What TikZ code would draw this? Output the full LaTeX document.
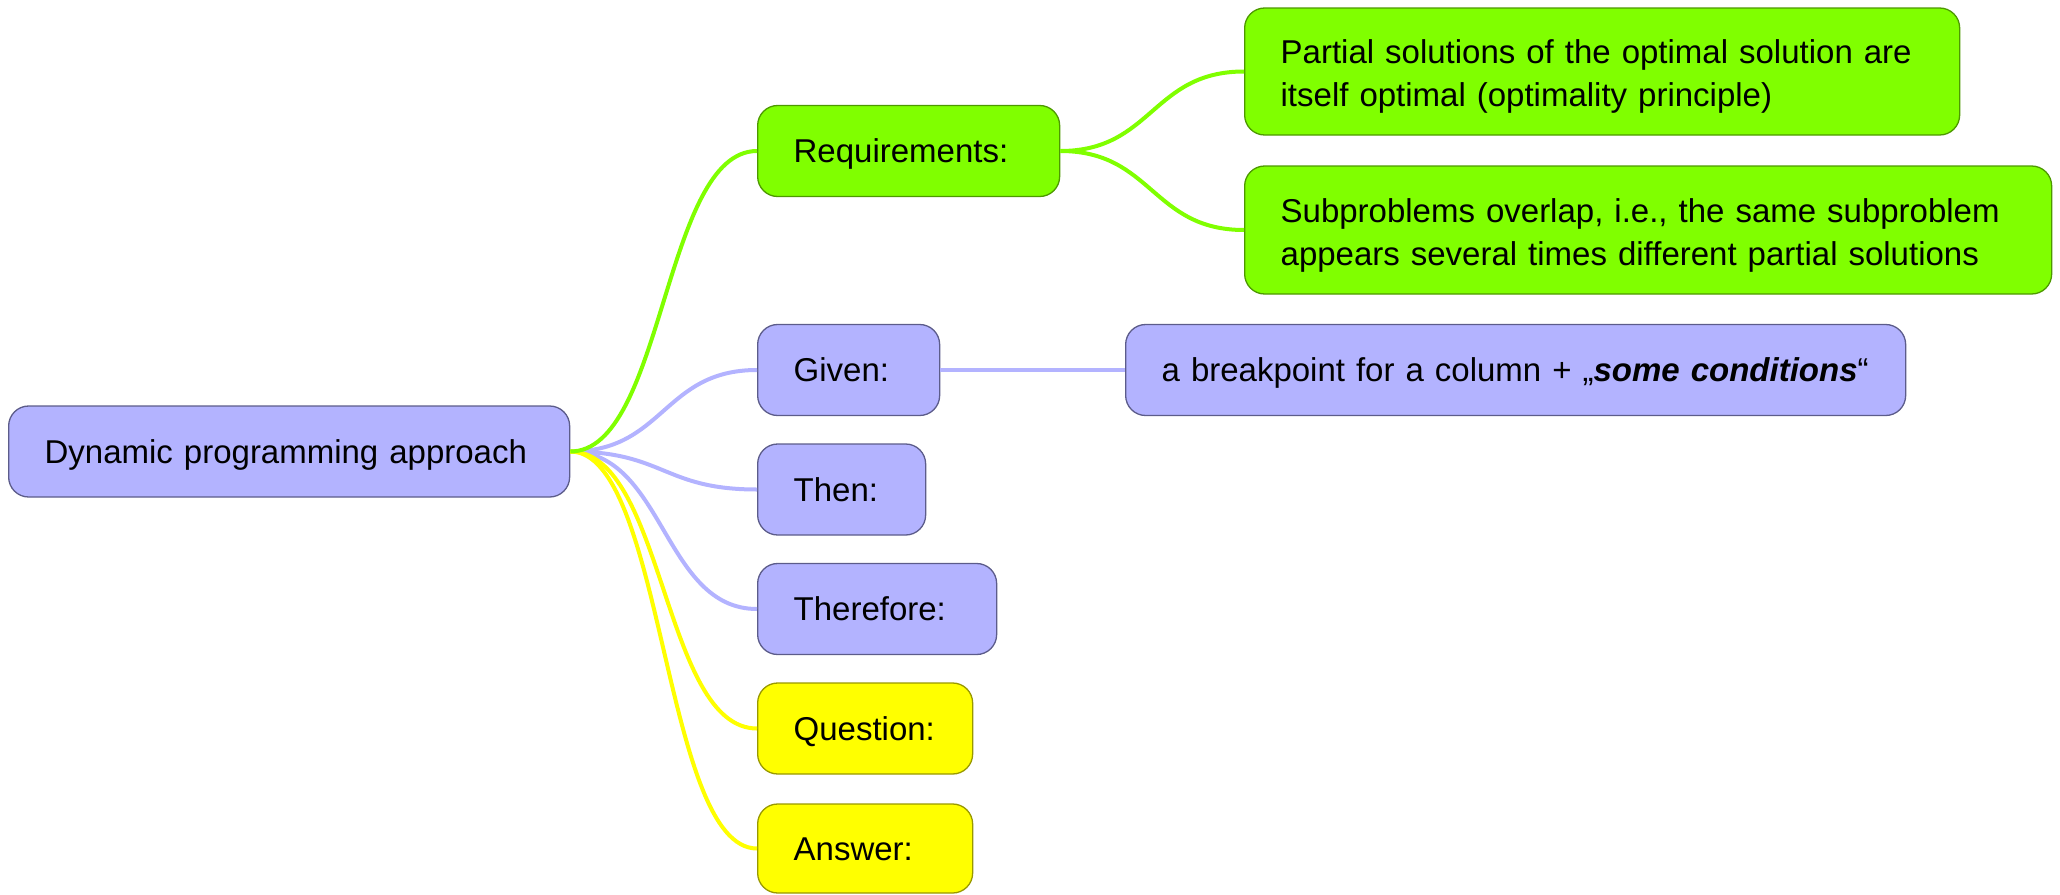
\documentclass[tikz,border=0pt]{standalone}
\usepackage{fontspec}
\setmainfont{Liberation Sans}
\usepackage{tikz}
\definecolor{mmblue}{HTML}{B3B3FF}
\definecolor{mmblueline}{HTML}{5C5C8A}
\definecolor{mmgreen}{HTML}{80FF00}
\definecolor{mmgreenline}{HTML}{4D9900}
\definecolor{mmyellow}{HTML}{FFFF00}
\definecolor{mmyellowline}{HTML}{999900}

\begin{document}
\begin{tikzpicture}[x=1pt, y=-1pt,
      font=\fontsize{33}{43}\selectfont,
      box/.style={rounded corners=20pt, line width=1.3pt, anchor=west,
        align=left, inner xsep=36pt, inner ysep=0pt, minimum height=91pt,
        text height=24pt, text depth=1pt},
      twolines/.style={text depth=40pt},
      bluebox/.style={box, fill=mmblue, draw=mmblueline},
      greenbox/.style={box, fill=mmgreen, draw=mmgreenline},
      yellowbox/.style={box, fill=mmyellow, draw=mmyellowline},
      bluelink/.style={line width=4pt, draw=mmblue},
      greenlink/.style={line width=4pt, draw=mmgreen},
      yellowlink/.style={line width=4pt, draw=mmyellow}]
      \useasboundingbox (0,0) rectangle (2060,894);
      \node[bluebox, text width=489pt] (root) at (8,451.5) {\mbox{Dynamic programming approach}};
      \node[greenbox, text width=230pt] (req) at (757,151) {Requirements:};
      \node[greenbox, twolines, text width=643pt, minimum height=127pt] (opt) at (1244,71.5)
        {Partial solutions of the optimal solution are\\itself optimal (optimality principle)};
      \node[greenbox, twolines, text width=735pt, minimum height=128pt] (overlap) at (1244,230)
        {Subproblems overlap, i.e., the same subproblem\\appears several times different partial solutions};
      \node[bluebox, text width=110pt] (given) at (757,370) {Given:};
      \node[bluebox, text width=708pt] (bp) at (1125,370)
        {\mbox{a breakpoint for a column + „\textbf{\textit{some conditions}}“}};
      \node[bluebox, text width=96pt] (then) at (757,489.5) {Then:};
      \node[bluebox, text width=167pt] (therefore) at (757,609) {Therefore:};
      \node[yellowbox, text width=143pt] (question) at (757,728.5) {Question:};
      \node[yellowbox, text width=143pt, minimum height=89pt] (answer) at (757,848.5) {Answer:};
      % root to its children
      \draw[bluelink] (root.east) .. controls +(94,0) and +(-94,0) .. (given.west);
      \draw[bluelink] (root.east) .. controls +(94,0) and +(-94,0) .. (then.west);
      \draw[bluelink] (root.east) .. controls +(94,0) and +(-94,0) .. (therefore.west);
      \draw[yellowlink] (root.east) .. controls +(94,0) and +(-94,0) .. (question.west);
      \draw[yellowlink] (root.east) .. controls +(94,0) and +(-94,0) .. (answer.west);
      \draw[greenlink] (root.east) .. controls +(94,0) and +(-94,0) .. (req.west);
      % second level
      \draw[greenlink] (req.east) .. controls +(92,0) and +(-92,0) .. (opt.west);
      \draw[greenlink] (req.east) .. controls +(92,0) and +(-92,0) .. (overlap.west);
      \draw[bluelink] (given.east) -- (bp.west);
\end{tikzpicture}
\end{document}
